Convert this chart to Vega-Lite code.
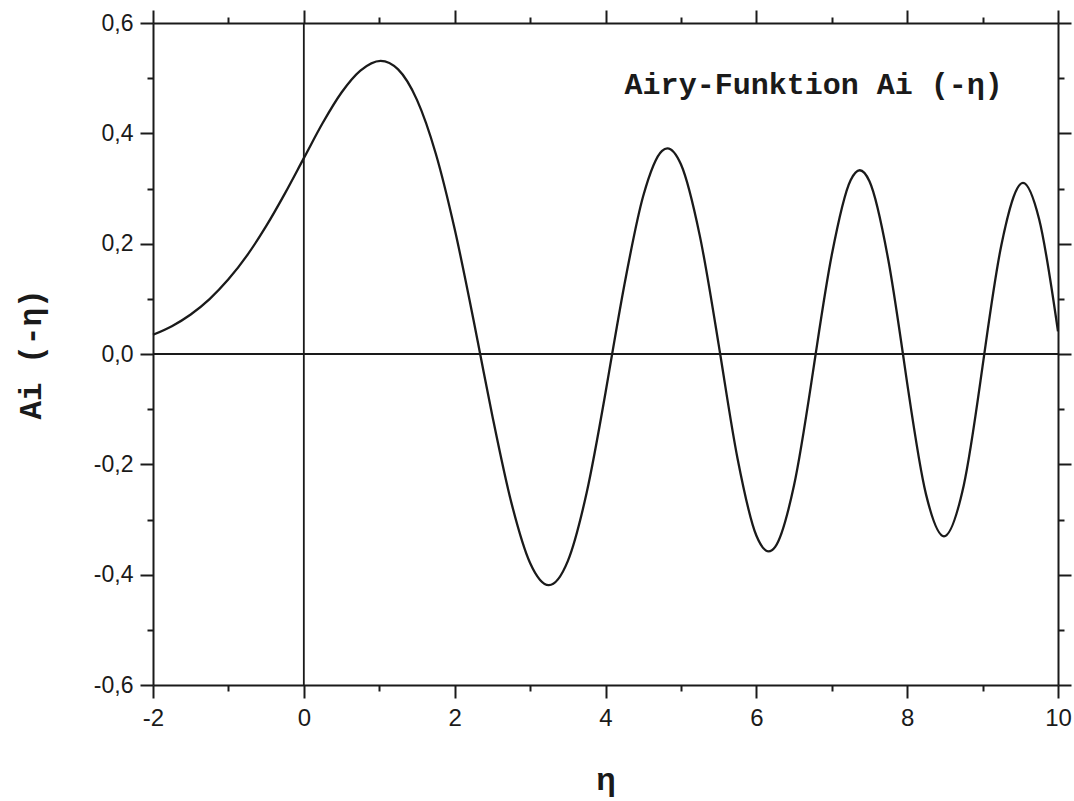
{
  "$schema": "https://vega.github.io/schema/vega-lite/v6.json",
  "width": 905,
  "height": 662,
  "autosize": "none",
  "padding": {"left": 153, "top": 23, "right": 16, "bottom": 116},
  "background": "white",
  "config": {
    "view": {"stroke": null},
    "axis": {
      "grid": false,
      "domainColor": "#1a1a1a",
      "domainWidth": 2,
      "tickColor": "#1a1a1a",
      "tickWidth": 2,
      "labelFont": "Liberation Sans",
      "labelColor": "#1a1a1a",
      "labelOverlap": false,
      "labelFlush": false,
      "labelBound": false
    }
  },
  "data": {
    "values": [
      {"eta": -2, "ai": 0.0349},
      {"eta": -1.75, "ai": 0.0505},
      {"eta": -1.5, "ai": 0.0717},
      {"eta": -1.25, "ai": 0.0996},
      {"eta": -1, "ai": 0.1353},
      {"eta": -0.75, "ai": 0.1793},
      {"eta": -0.5, "ai": 0.2317},
      {"eta": -0.25, "ai": 0.2912},
      {"eta": 0, "ai": 0.355},
      {"eta": 0.25, "ai": 0.4187},
      {"eta": 0.5, "ai": 0.474},
      {"eta": 0.75, "ai": 0.5137},
      {"eta": 1.0188, "ai": 0.5314},
      {"eta": 1.25, "ai": 0.5159},
      {"eta": 1.5, "ai": 0.4606},
      {"eta": 1.75, "ai": 0.363},
      {"eta": 2.0, "ai": 0.2265},
      {"eta": 2.25, "ai": 0.0616},
      {"eta": 2.3381, "ai": 0},
      {"eta": 2.5, "ai": -0.1123},
      {"eta": 2.75, "ai": -0.2685},
      {"eta": 3.0, "ai": -0.3788},
      {"eta": 3.2482, "ai": -0.419},
      {"eta": 3.5, "ai": -0.3755},
      {"eta": 3.75, "ai": -0.2516},
      {"eta": 4.0, "ai": -0.0703},
      {"eta": 4.088, "ai": 0},
      {"eta": 4.25, "ai": 0.1252},
      {"eta": 4.5, "ai": 0.2864},
      {"eta": 4.75, "ai": 0.3684},
      {"eta": 4.8201, "ai": 0.3728},
      {"eta": 5.0, "ai": 0.3438},
      {"eta": 5.25, "ai": 0.2146},
      {"eta": 5.5, "ai": 0.0174},
      {"eta": 5.5206, "ai": 0},
      {"eta": 5.75, "ai": -0.1888},
      {"eta": 6.0, "ai": -0.3291},
      {"eta": 6.1633, "ai": -0.3579},
      {"eta": 6.25, "ai": -0.3496},
      {"eta": 6.5, "ai": -0.238},
      {"eta": 6.75, "ai": -0.0334},
      {"eta": 6.7867, "ai": 0},
      {"eta": 7.0, "ai": 0.1793},
      {"eta": 7.25, "ai": 0.315},
      {"eta": 7.3722, "ai": 0.3331},
      {"eta": 7.5, "ai": 0.3131},
      {"eta": 7.75, "ai": 0.1703},
      {"eta": 7.9441, "ai": 0},
      {"eta": 8.0, "ai": -0.0527},
      {"eta": 8.25, "ai": -0.2545},
      {"eta": 8.4885, "ai": -0.3305},
      {"eta": 8.75, "ai": -0.2382},
      {"eta": 9.0, "ai": -0.0221},
      {"eta": 9.0227, "ai": 0},
      {"eta": 9.25, "ai": 0.1982},
      {"eta": 9.5358, "ai": 0.3101},
      {"eta": 9.75, "ai": 0.2442},
      {"eta": 10.0, "ai": 0.041}
    ]
  },
  "layer": [
    {
      "mark": {"type": "line", "interpolate": "monotone", "color": "#1a1a1a", "strokeWidth": 2.3},
      "encoding": {
        "x": {
          "field": "eta",
          "type": "quantitative",
          "scale": {"domain": [-2, 10], "nice": false, "zero": false},
          "axis": {
            "orient": "bottom",
            "values": [-2, -1, 0, 1, 2, 3, 4, 5, 6, 7, 8, 9, 10],
            "labelExpr": "datum.value % 2 == 0 ? '' + datum.value : ''",
            "tickSize": {"condition": {"test": "datum.value % 2 != 0", "value": 6}, "value": 13},
            "labelFont": "Liberation Sans",
            "labelFontSize": 24,
            "labelPadding": 8,
            "title": "η",
            "titleFont": "Liberation Sans",
            "titleFontSize": 32,
            "titleFontWeight": "bold",
            "titleColor": "#1a1a1a",
            "titlePadding": 34
          }
        },
        "y": {
          "field": "ai",
          "type": "quantitative",
          "scale": {"domain": [-0.6, 0.6], "nice": false, "zero": false},
          "axis": {
            "orient": "left",
            "values": [-0.6, -0.5, -0.4, -0.3, -0.2, -0.1, 0, 0.1, 0.2, 0.3, 0.4, 0.5, 0.6],
            "labelExpr": "abs(round(datum.value * 10)) % 2 == 0 ? replace(replace(format(datum.value, '.1f'), '.', ','), '−', '-') : ''",
            "tickSize": {"condition": {"test": "abs(round(datum.value * 10)) % 2 == 1", "value": 6}, "value": 13},
            "labelFont": "Liberation Sans",
            "labelFontSize": 23,
            "labelPadding": 7,
            "title": "Ai (-η)",
            "titleFont": "Liberation Mono",
            "titleFontSize": 31,
            "titleFontWeight": "bold",
            "titleColor": "#1a1a1a",
            "titlePadding": 46
          }
        }
      }
    },
    {
      "data": {"values": [{}]},
      "mark": {"type": "rule", "color": "#1a1a1a", "strokeWidth": 1.8},
      "encoding": {
        "x": {
          "datum": 0,
          "type": "quantitative",
          "axis": {
            "orient": "top",
            "values": [-2, -1, 0, 1, 2, 3, 4, 5, 6, 7, 8, 9, 10],
            "labels": false,
            "title": null,
            "tickSize": {"condition": {"test": "datum.value % 2 != 0", "value": 6}, "value": 13}
          }
        }
      }
    },
    {
      "data": {"values": [{}]},
      "mark": {"type": "rule", "color": "#1a1a1a", "strokeWidth": 1.8},
      "encoding": {
        "y": {
          "datum": 0,
          "type": "quantitative",
          "axis": {
            "orient": "right",
            "values": [-0.6, -0.5, -0.4, -0.3, -0.2, -0.1, 0, 0.1, 0.2, 0.3, 0.4, 0.5, 0.6],
            "labels": false,
            "title": null,
            "tickSize": {"condition": {"test": "abs(round(datum.value * 10)) % 2 == 1", "value": 6}, "value": 13}
          }
        }
      }
    },
    {
      "data": {"values": [{}]},
      "mark": {"type": "text", "font": "Liberation Mono", "fontWeight": "bold", "fontSize": 30, "align": "center", "baseline": "middle", "color": "#1a1a1a"},
      "encoding": {
        "x": {"datum": 6.76, "type": "quantitative", "axis": null},
        "y": {"datum": 0.488, "type": "quantitative", "axis": null},
        "text": {"value": "Airy-Funktion Ai (-η)"}
      }
    }
  ],
  "resolve": {"axis": {"x": "independent", "y": "independent"}}
}
